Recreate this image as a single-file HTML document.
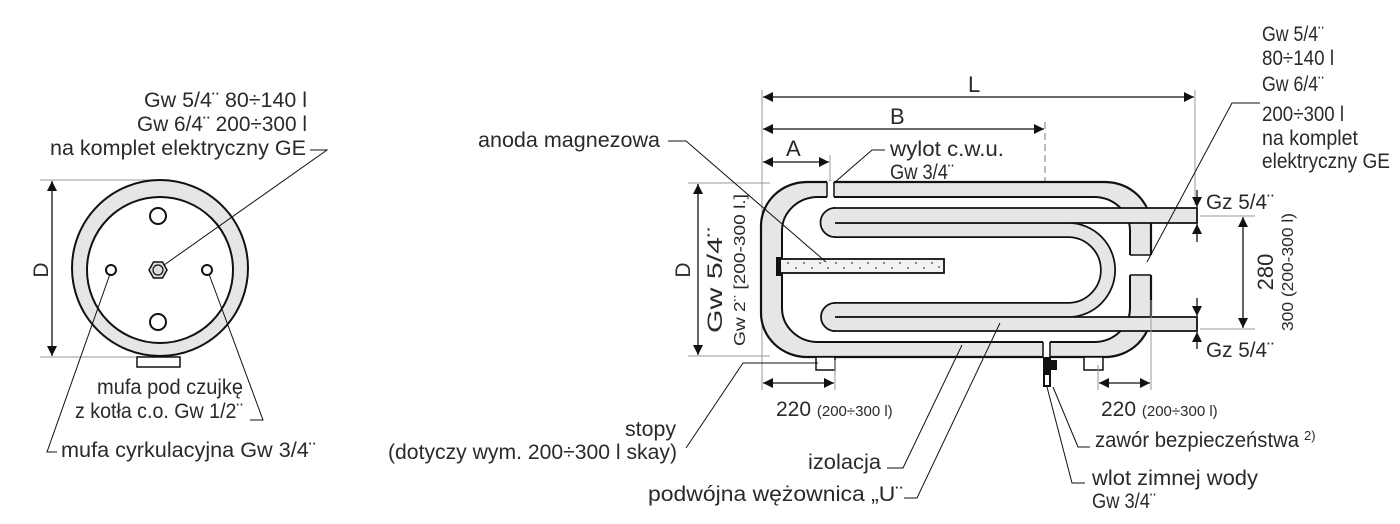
<!DOCTYPE html>
<html><head><meta charset="utf-8"><style>
html,body{margin:0;padding:0;background:#fff;width:1400px;height:524px;overflow:hidden}
svg text{font-family:"Liberation Sans Narrow","Liberation Sans",sans-serif;fill:#2a2a2a;font-size:21px}
</style></head><body>
<svg width="1400" height="524" viewBox="0 0 1400 524" xmlns="http://www.w3.org/2000/svg">
<defs>
<marker id="ar" viewBox="0 0 10 10" refX="10" refY="5" markerWidth="15" markerHeight="10" orient="auto-start-reverse" markerUnits="userSpaceOnUse"><path d="M0,0 L10,5 L0,10 z" fill="#111"/></marker>
</defs>
<g stroke="#111" fill="none">
<line x1="40" y1="180" x2="160" y2="180" stroke="#999" stroke-width="1"/>
<line x1="40" y1="357" x2="160" y2="357" stroke="#999" stroke-width="1"/>
<line x1="52" y1="181" x2="52" y2="356" stroke-width="1.3" marker-start="url(#ar)" marker-end="url(#ar)"/>
<circle cx="160" cy="268" r="88" fill="#e6e6e6" stroke-width="2"/>
<circle cx="160" cy="270" r="73" fill="#fff" stroke-width="2"/>
<rect x="137" y="357" width="43" height="10" fill="#fff" stroke-width="1.5"/>
<circle cx="158" cy="216" r="8" stroke-width="2"/>
<circle cx="158" cy="322" r="8" stroke-width="2"/>
<circle cx="111" cy="270" r="5" stroke-width="2"/>
<circle cx="207" cy="270" r="5" stroke-width="2"/>
<polygon points="149,270 153.5,262 162.5,262 167,270 162.5,278 153.5,278" fill="#ddd" stroke-width="1.5"/>
<circle cx="158" cy="270" r="5" stroke-width="1.2"/>
<polyline points="310,150 327,150 164,265" stroke-width="1"/>
<polyline points="209,274 263,420 250,420" stroke-width="1"/>
<polyline points="110,274 47,452 57,452" stroke-width="1"/>

<line x1="762" y1="90" x2="762" y2="390" stroke="#999" stroke-width="1"/>
<line x1="1195" y1="90" x2="1195" y2="205" stroke="#999" stroke-width="1"/>
<line x1="763" y1="97" x2="1194" y2="97" stroke-width="1.3" marker-start="url(#ar)" marker-end="url(#ar)"/>
<line x1="763" y1="129" x2="1044" y2="129" stroke-width="1.3" marker-start="url(#ar)" marker-end="url(#ar)"/>
<line x1="763" y1="162" x2="829" y2="162" stroke-width="1.3" marker-start="url(#ar)" marker-end="url(#ar)"/>
<line x1="830" y1="155" x2="830" y2="182" stroke="#999" stroke-width="1"/>
<line x1="1045" y1="122" x2="1045" y2="357" stroke="#777" stroke-width="1" stroke-dasharray="7,4"/>
<line x1="688" y1="183" x2="770" y2="183" stroke="#999" stroke-width="1"/>
<line x1="688" y1="356" x2="770" y2="356" stroke="#999" stroke-width="1"/>
<line x1="698" y1="184" x2="698" y2="355" stroke-width="1.3" marker-start="url(#ar)" marker-end="url(#ar)"/>

<rect x="761" y="182" width="390" height="175" rx="46" ry="44" fill="#e6e6e6" stroke-width="2.2"/>
<rect x="782" y="197" width="348" height="145" rx="36" ry="34" fill="#fff" stroke-width="2"/>
<rect x="827" y="181" width="7" height="17" fill="#fff" stroke="none"/>
<line x1="827" y1="182" x2="827" y2="197" stroke-width="1.5"/>
<line x1="834" y1="182" x2="834" y2="197" stroke-width="1.5"/>
<rect x="1043" y="341" width="7" height="18" fill="#fff" stroke="none"/>
<line x1="1043" y1="342" x2="1043" y2="357" stroke-width="1.5"/>
<line x1="1050" y1="342" x2="1050" y2="357" stroke-width="1.5"/>
<rect x="1129" y="255" width="24" height="20" fill="#fff" stroke="none"/>
<line x1="1130" y1="255" x2="1151" y2="255" stroke-width="1.5"/>
<line x1="1130" y1="275" x2="1151" y2="275" stroke-width="1.5"/>
<path d="M834 230 H1068 A40 40 0 0 1 1068 310 H834" stroke-width="16"/>
<path d="M833 230 H1068 A40 40 0 0 1 1068 310 H833" stroke="#e6e6e6" stroke-width="12.5"/>
<rect x="833" y="208" width="364" height="15" fill="#e6e6e6" stroke="none"/>
<polyline points="833,208 1197,208 1197,223 833,223" stroke-width="1.8"/>
<rect x="833" y="317" width="364" height="14" fill="#e6e6e6" stroke="none"/>
<polyline points="833,317 1197,317 1197,331 833,331" stroke-width="1.8"/>
<path d="M835 208 A14.5 14.5 0 0 0 835 237" fill="#e6e6e6" stroke-width="1.8"/>
<path d="M835 303 A14 14 0 0 0 835 331" fill="#e6e6e6" stroke-width="1.8"/>
<line x1="833" y1="209" x2="833" y2="236" stroke="#e6e6e6" stroke-width="3"/>
<line x1="833" y1="304" x2="833" y2="330" stroke="#e6e6e6" stroke-width="3"/>
<rect x="780" y="259" width="164" height="14" fill="#f2f2f2" stroke-width="1.8"/>
<g fill="#444" stroke="none">
<circle cx="788" cy="263" r="0.9"/><circle cx="796" cy="268" r="0.9"/><circle cx="804" cy="263" r="0.9"/><circle cx="812" cy="268" r="0.9"/><circle cx="820" cy="263" r="0.9"/><circle cx="828" cy="268" r="0.9"/><circle cx="836" cy="263" r="0.9"/><circle cx="844" cy="268" r="0.9"/><circle cx="852" cy="263" r="0.9"/><circle cx="860" cy="268" r="0.9"/><circle cx="868" cy="263" r="0.9"/><circle cx="876" cy="268" r="0.9"/><circle cx="884" cy="263" r="0.9"/><circle cx="892" cy="268" r="0.9"/><circle cx="900" cy="263" r="0.9"/><circle cx="908" cy="268" r="0.9"/><circle cx="916" cy="263" r="0.9"/><circle cx="924" cy="268" r="0.9"/><circle cx="932" cy="263" r="0.9"/><circle cx="939" cy="267" r="0.9"/>
</g>
<rect x="776" y="257" width="5" height="19" fill="#111" stroke="none"/>
<rect x="816" y="357" width="19" height="13" fill="#fff" stroke-width="1.5"/>
<rect x="1084" y="357" width="19" height="13" fill="#fff" stroke-width="1.5"/>
<rect x="1043" y="357" width="8" height="30" fill="#111" stroke="none"/>
<rect x="1050" y="360" width="7" height="10" fill="#111" stroke="none"/>
<rect x="1045" y="375" width="4" height="10" fill="#fff" stroke="none"/>
<line x1="835" y1="360" x2="835" y2="390" stroke="#999" stroke-width="1"/>
<line x1="763" y1="383" x2="834" y2="383" stroke-width="1.3" marker-start="url(#ar)" marker-end="url(#ar)"/>
<line x1="1098" y1="365" x2="1098" y2="390" stroke="#999" stroke-width="1"/>
<line x1="1151" y1="300" x2="1151" y2="390" stroke="#999" stroke-width="1"/>
<line x1="1099" y1="383" x2="1150" y2="383" stroke-width="1.3" marker-start="url(#ar)" marker-end="url(#ar)"/>
<line x1="1200" y1="216" x2="1255" y2="216" stroke="#999" stroke-width="1"/>
<line x1="1200" y1="329" x2="1255" y2="329" stroke="#999" stroke-width="1"/>
<line x1="1243" y1="217" x2="1243" y2="328" stroke-width="1.3" marker-start="url(#ar)" marker-end="url(#ar)"/>
<line x1="1197" y1="190" x2="1197" y2="207" stroke-width="1.3" marker-end="url(#ar)"/>
<line x1="1197" y1="242" x2="1197" y2="224" stroke-width="1.3" marker-end="url(#ar)"/>
<line x1="1197" y1="298" x2="1197" y2="316" stroke-width="1.3" marker-end="url(#ar)"/>
<line x1="1197" y1="349" x2="1197" y2="332" stroke-width="1.3" marker-end="url(#ar)"/>
<polyline points="668,141 686,141 826,262" stroke-width="1"/>
<polyline points="885,150 872,150 834,183" stroke-width="1"/>
<polyline points="1260,103 1232,103 1147,262" stroke-width="1"/>
<polyline points="686,448 743,363 818,363" stroke-width="1"/>
<polyline points="887,468 903,468 962,345" stroke-width="1"/>
<polyline points="904,498 917,498 1000,323" stroke-width="1"/>
<polyline points="1053,387 1078,447 1090,447" stroke-width="1"/>
<polyline points="1047,387 1072,483 1085,483" stroke-width="1"/>
</g>

<text x="307" y="107" text-anchor="end" textLength="163" lengthAdjust="spacingAndGlyphs">Gw 5/4¨ 80÷140 l</text>
<text x="307" y="131" text-anchor="end" textLength="170" lengthAdjust="spacingAndGlyphs">Gw 6/4¨ 200÷300 l</text>
<text x="50" y="155" textLength="256" lengthAdjust="spacingAndGlyphs">na komplet elektryczny GE</text>
<text transform="translate(48,270) rotate(-90)" text-anchor="middle">D</text>
<text x="97" y="394" textLength="146" lengthAdjust="spacingAndGlyphs">mufa pod czujkę</text>
<text x="75" y="418" textLength="168" lengthAdjust="spacingAndGlyphs">z kotła c.o. Gw 1/2¨</text>
<text x="61" y="457" textLength="255" lengthAdjust="spacingAndGlyphs">mufa cyrkulacyjna Gw 3/4¨</text>

<text x="478" y="147" textLength="182" lengthAdjust="spacingAndGlyphs">anoda magnezowa</text>
<text x="968" y="92" style="font-size:22px">L</text>
<text x="890" y="124" style="font-size:22px">B</text>
<text x="786" y="156" style="font-size:22px">A</text>
<text x="890" y="156" textLength="114" lengthAdjust="spacingAndGlyphs">wylot c.w.u.</text>
<text x="890" y="179" textLength="64" lengthAdjust="spacingAndGlyphs">Gw 3/4¨</text>
<text x="1262" y="41" textLength="62" lengthAdjust="spacingAndGlyphs">Gw 5/4¨</text>
<text x="1262" y="65" textLength="72" lengthAdjust="spacingAndGlyphs">80÷140 l</text>
<text x="1262" y="91" textLength="62" lengthAdjust="spacingAndGlyphs">Gw 6/4¨</text>
<text x="1262" y="121" textLength="82" lengthAdjust="spacingAndGlyphs">200÷300 l</text>
<text x="1262" y="145" textLength="96" lengthAdjust="spacingAndGlyphs">na komplet</text>
<text x="1262" y="168" textLength="128" lengthAdjust="spacingAndGlyphs">elektryczny GE</text>
<text x="1206" y="209" textLength="68" lengthAdjust="spacingAndGlyphs">Gz 5/4¨</text>
<text x="1206" y="357" textLength="68" lengthAdjust="spacingAndGlyphs">Gz 5/4¨</text>
<text transform="translate(1273,272) rotate(-90)" text-anchor="middle" style="font-size:22px">280</text>
<text transform="translate(1293,272) rotate(-90)" text-anchor="middle" style="font-size:16px" textLength="118" lengthAdjust="spacingAndGlyphs">300 (200-300 l)</text>
<text transform="translate(690,270) rotate(-90)" text-anchor="middle">D</text>
<text transform="translate(722,280) rotate(-90)" text-anchor="middle" textLength="106" lengthAdjust="spacingAndGlyphs">Gw 5/4¨</text>
<text transform="translate(745,270) rotate(-90)" text-anchor="middle" style="font-size:16px" textLength="152" lengthAdjust="spacingAndGlyphs">Gw 2¨ [200-300 l.]</text>
<text x="776" y="416">220 <tspan style="font-size:15px">(200÷300 l)</tspan></text>
<text x="1101" y="416">220 <tspan style="font-size:15px">(200÷300 l)</tspan></text>
<text x="625" y="436" textLength="51" lengthAdjust="spacingAndGlyphs">stopy</text>
<text x="388" y="459" textLength="289" lengthAdjust="spacingAndGlyphs">(dotyczy wym. 200÷300 l skay)</text>
<text x="808" y="469" textLength="73" lengthAdjust="spacingAndGlyphs">izolacja</text>
<text x="648" y="501" textLength="255" lengthAdjust="spacingAndGlyphs">podwójna wężownica „U¨</text>
<text x="1095" y="447" textLength="204" lengthAdjust="spacingAndGlyphs">zawór bezpieczeństwa</text>
<text x="1304" y="440" style="font-size:13px">2)</text>
<text x="1092" y="485" textLength="166" lengthAdjust="spacingAndGlyphs">wlot zimnej wody</text>
<text x="1092" y="508" textLength="64" lengthAdjust="spacingAndGlyphs">Gw 3/4¨</text>
</svg>
</body></html>
